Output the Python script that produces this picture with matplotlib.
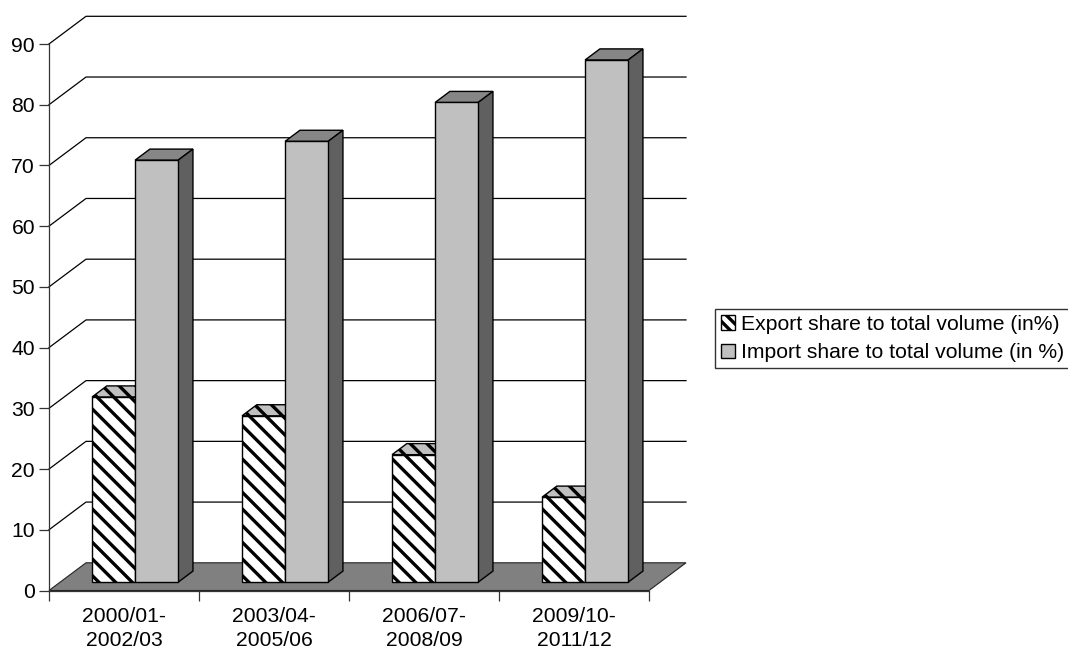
import numpy as np
import matplotlib
matplotlib.use('Agg')
import matplotlib.pyplot as plt
from matplotlib.patches import Patch, Polygon

periods = ['2000/01-\n2002/03', '2003/04-\n2005/06', '2006/07-\n2008/09', '2009/10-\n2011/12']
export_share = [30.5, 27.4, 21.0, 14.0]
import_share = [69.5, 72.6, 79.0, 86.0]
y_ticks = [0, 10, 20, 30, 40, 50, 60, 70, 80, 90]

plt.rcParams['font.family'] = ['Liberation Sans', 'DejaVu Sans']
plt.rcParams['hatch.linewidth'] = 2.4

W, H = 1068, 651
fig = plt.figure(figsize=(W / 100, H / 100), dpi=100)
ax = fig.add_axes([49 / W, 1 - 590.5 / H, 600 / W, 546.5 / H])
ax.set_xlim(0, 4)
ax.set_ylim(0, 90)

# oblique projection of the chart depth, in data units
depth_x = 37 / 150
depth_y = 27.7 / (546.5 / 90)
bar_w = 0.287
near, far = 0.3, 0.7

# floor and back wall
ax.add_patch(Polygon([(0, 0), (depth_x, depth_y), (4 + depth_x, depth_y), (4, 0)],
                     facecolor='#808080', edgecolor='#222222', lw=0.8, clip_on=False, zorder=1))
for v in y_ticks[1:]:
    ax.plot([0, depth_x, 4 + depth_x], [v, v + depth_y, v + depth_y],
            color='black', lw=0.9, clip_on=False, zorder=1)


def draw_bar(left, value, front, top, side, hatch=None):
    """One 3D column: top and side faces are polygons, front face is a bar."""
    x0 = left + near * depth_x
    y0 = near * depth_y
    x1 = x0 + bar_w
    y1 = y0 + value
    dx = (far - near) * depth_x
    dy = (far - near) * depth_y
    ax.add_patch(Polygon([(x0, y1), (x0 + dx, y1 + dy), (x1 + dx, y1 + dy), (x1, y1)],
                         facecolor=top, edgecolor='black', lw=1.0, hatch=hatch,
                         clip_on=False, zorder=3))
    ax.add_patch(Polygon([(x1, y0), (x1 + dx, y0 + dy), (x1 + dx, y1 + dy), (x1, y1)],
                         facecolor=side, edgecolor='black', lw=1.0,
                         clip_on=False, zorder=3))
    ax.bar(x0, value, bar_w, bottom=y0, align='edge', facecolor=front, edgecolor='black',
           lw=1.0, hatch=hatch, clip_on=False, zorder=3)


for i in range(len(periods)):
    draw_bar(i + 0.5 - bar_w, export_share[i], 'white', '#c0c0c0', '#606060', hatch='\\\\')
    draw_bar(i + 0.5, import_share[i], '#c0c0c0', '#868686', '#606060')

# axes, ticks and labels
for name in ['top', 'right']:
    ax.spines[name].set_visible(False)
for name in ['left', 'bottom']:
    ax.spines[name].set_color('#333333')
    ax.spines[name].set_linewidth(0.9)
    ax.spines[name].set_zorder(2)

ax.set_yticks(y_ticks)
ax.tick_params(axis='y', length=7, width=0.9, color='#333333', labelsize=15.2, pad=3)
ax.set_xticks(range(5))
ax.set_xticklabels([])
ax.tick_params(axis='x', which='major', length=7, width=0.9, color='#333333')
ax.set_xticks(np.arange(4) + 0.5, minor=True)
ax.set_xticklabels(periods, minor=True, fontsize=15.2, linespacing=1.33)
ax.tick_params(axis='x', which='minor', length=0, pad=12)

handles = [Patch(facecolor='white', edgecolor='black', hatch='\\\\\\', lw=1.0),
           Patch(facecolor='#c0c0c0', edgecolor='black', lw=1.0)]
labels = ['Export share to total volume (in%)', 'Import share to total volume (in %)']
fig.legend(handles, labels, loc='upper left', bbox_to_anchor=(715 / W, 1 - 309 / H),
           bbox_transform=fig.transFigure, borderaxespad=0, fontsize=15.2, fancybox=False,
           framealpha=1, edgecolor='#333333', handlelength=0.66, handleheight=0.66,
           handletextpad=0.27, labelspacing=0.44, borderpad=0.28)

fig.savefig('out.png', dpi=100)
